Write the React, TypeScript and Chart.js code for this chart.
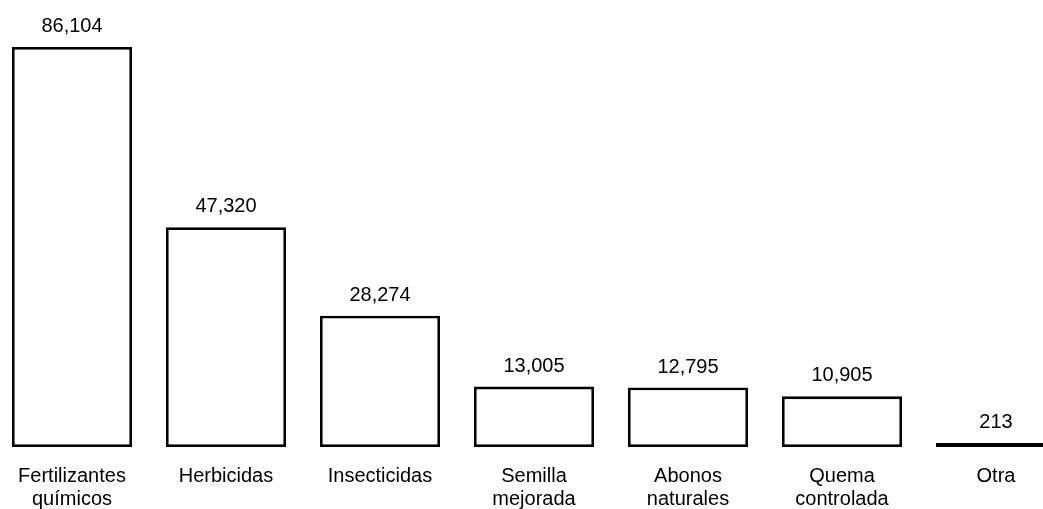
import React, { useEffect, useRef } from "react";
import { Chart, registerables } from "chart.js";

Chart.register(...registerables);

const categories: (string | string[])[] = [
  ["Fertilizantes", "químicos"],
  "Herbicidas",
  "Insecticidas",
  ["Semilla", "mejorada"],
  ["Abonos", "naturales"],
  ["Quema", "controlada"],
  "Otra",
];
const values: number[] = [86104, 47320, 28274, 13005, 12795, 10905, 213];

const FONT = "'Liberation Sans', Arial, sans-serif";

const valueLabels = {
  id: "valueLabels",
  afterDatasetsDraw(chart: any) {
    const ctx = chart.ctx;
    const meta = chart.getDatasetMeta(0);
    ctx.save();
    ctx.font = `20px ${FONT}`;
    ctx.fillStyle = "#000";
    ctx.textAlign = "center";
    ctx.textBaseline = "alphabetic";
    meta.data.forEach((bar: any, i: number) => {
      ctx.fillText(values[i].toLocaleString("en-US"), bar.x, bar.y - 15);
    });
    ctx.restore();
  },
};

const W = 1078;
const H = 531;

export default function App() {
  const ref = useRef<HTMLCanvasElement>(null);
  useEffect(() => {
    document.body.style.margin = "0";
    document.body.style.overflow = "hidden";
    const chart = new Chart(ref.current!, {
      type: "bar",
      data: {
        labels: categories,
        datasets: [
          {
            data: values,
            backgroundColor: "#ffffff",
            borderColor: "#000000",
            borderWidth: 2.8,
            borderSkipped: false,
            minBarLength: 4,
            barPercentage: 0.78,
            categoryPercentage: 1,
          },
        ],
      },
      options: {
        responsive: false,
        animation: false,
        devicePixelRatio: 1,
        layout: { padding: { top: 47, bottom: 2, left: 0, right: 0 } },
        plugins: { legend: { display: false }, tooltip: { enabled: false } },
        scales: {
          x: {
            grid: { display: false, drawTicks: false },
            border: { display: false },
            ticks: {
              color: "#000",
              padding: 18,
              maxRotation: 0,
              autoSkip: false,
              font: { family: FONT, size: 20, lineHeight: 1.15 },
            },
          },
          y: { display: false, min: 0, max: 86104 },
        },
      },
      plugins: [valueLabels],
    });
    return () => chart.destroy();
  }, []);
  return (
    <div style={{ position: "fixed", top: 0, left: -5, width: W, height: H }}>
      <canvas ref={ref} width={W} height={H} style={{ width: W, height: H }} />
    </div>
  );
}
